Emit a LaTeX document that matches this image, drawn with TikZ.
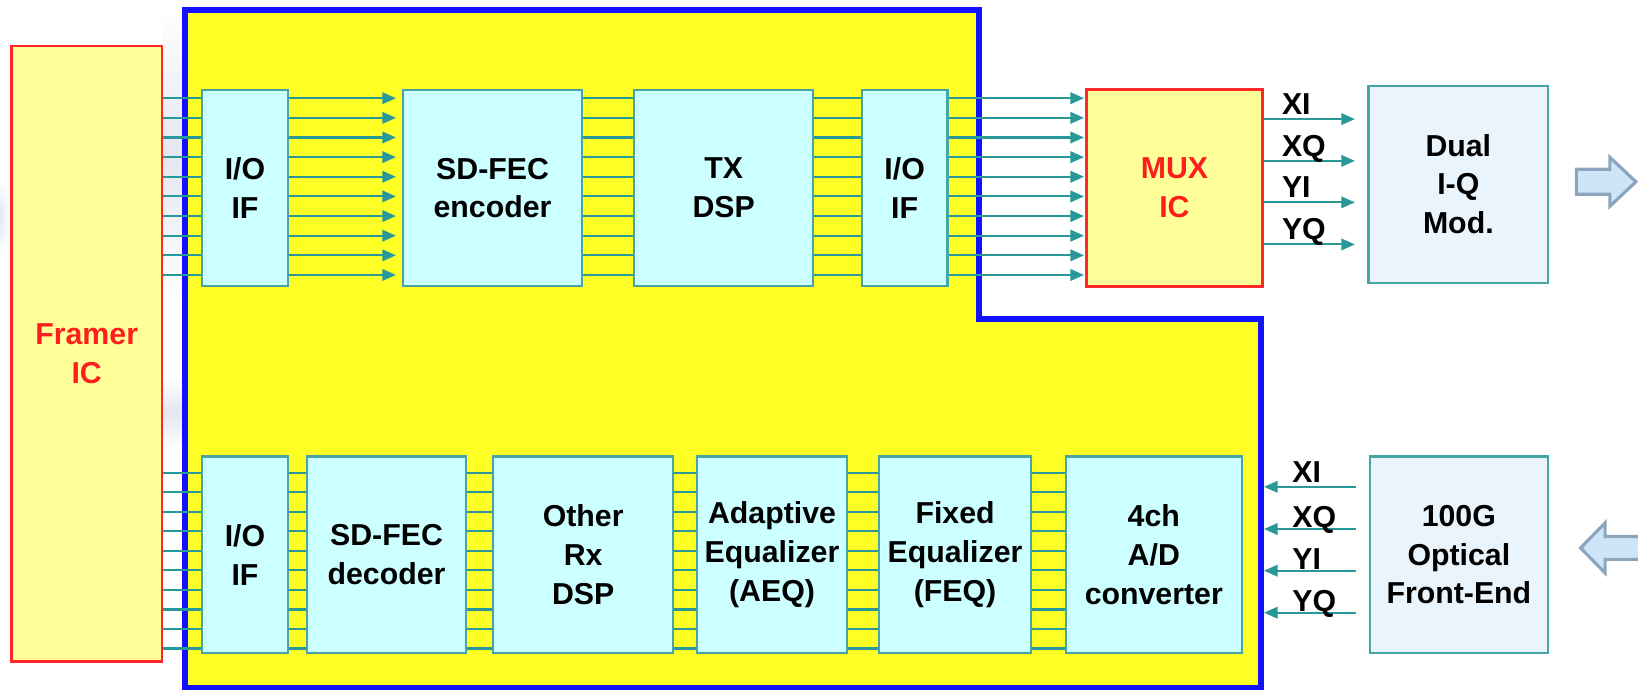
\documentclass[tikz,border=0pt]{standalone}
\usepackage{fontspec}
\setmainfont{Liberation Sans}
\usetikzlibrary{arrows.meta,calc}
\definecolor{bluebd}{RGB}{18,18,255}
\definecolor{yel}{RGB}{255,255,38}
\definecolor{lyel}{RGB}{255,255,153}
\definecolor{redbd}{RGB}{255,40,40}
\definecolor{redtx}{RGB}{255,30,30}
\definecolor{cyanf}{RGB}{204,255,255}
\definecolor{tealbd}{RGB}{70,165,165}
\definecolor{buscol}{RGB}{40,152,152}
\definecolor{lblue}{RGB}{234,244,252}
\definecolor{arrf}{RGB}{206,228,247}
\definecolor{arrbd}{RGB}{140,165,190}
\definecolor{shadowc}{RGB}{228,230,241}
\begin{document}
\begin{tikzpicture}[x=1pt,y=-1pt,
  every node/.style={font=\fontsize{29}{37}\selectfont\bfseries, align=center, inner sep=0pt},
  blk/.style={draw=tealbd, fill=cyanf, line width=2pt, minimum height=188pt},
  ic/.style={draw=redbd, fill=lyel, line width=2.6pt, text=redtx},
  ext/.style={draw=tealbd, fill=lblue, line width=2pt},
  bus/.style={draw=buscol, line width=2pt},
  busarr/.style={bus, -{Triangle[length=13pt,width=11pt]}},
  lbl/.style={anchor=base west},
  blockarrow/.style={draw=arrbd, fill=arrf, line width=3pt, line join=miter}
]
\useasboundingbox (0,0) rectangle (1568,662);

% faint background shading
\shade[top color=white, bottom color=white, middle color=shadowc] (156,8) rectangle (176,290);
\shade[top color=white, bottom color=white, middle color=shadowc] (156,360) rectangle (176,430);
\shade[inner color=shadowc, outer color=white] (-10,170) rectangle (10,245);

% yellow ASIC area with blue outline
\draw[bluebd, fill=yel, line width=5.5pt, line join=miter]
  (177,9.5) -- (937,9.5) -- (937,305.5) -- (1207,305.5) -- (1207,658) -- (177,658) -- cycle;
\coordinate (bR) at (1210,0);

% blocks
\node[ic, minimum width=144pt, minimum height=589pt] (framer) at (83,338.5) {Framer\\IC};
\node[blk, minimum width=82pt] (io1) at (234.5,180) {I/O\\IF};
\node[blk, minimum width=171pt] (enc) at (471.5,180) {SD-FEC\\encoder};
\node[blk, minimum width=171.5pt] (tx) at (692.75,180) {TX\\DSP};
\node[blk, minimum width=82pt] (io2) at (866,180) {I/O\\IF};
\node[ic, minimum width=168.5pt, minimum height=188pt] (mux) at (1124.25,180) {MUX\\IC};
\node[ext, minimum width=172pt, minimum height=188.5pt] (dual) at (1396,176.25) {Dual\\I-Q\\Mod.};

\node[blk, minimum width=82pt] (io3) at (234.5,531) {I/O\\IF};
\node[blk, minimum width=152pt] (dec) at (370,531) {SD-FEC\\decoder};
\node[blk, minimum width=172.5pt] (rx) at (558.25,531) {Other\\Rx\\DSP};
\node[blk, minimum width=144pt] (aeq) at (739,531) {Adaptive\\Equalizer\\(AEQ)};
\node[blk, minimum width=145.5pt] (feq) at (914.25,531) {Fixed\\Equalizer\\(FEQ)};
\node[blk, minimum width=169pt] (adc) at (1104.5,531) {4ch\\A/D\\converter};
\node[ext, minimum width=171pt, minimum height=188pt] (ofe) at (1396.5,531) {100G\\Optical\\Front-End};

% transmit buses
\foreach \i in {0,...,9}{
  \pgfmathsetmacro\yy{94+18.8*\i}
  \draw[bus] (framer.east |- 0,\yy) -- (io1.west |- 0,\yy);
  \draw[busarr, shorten >=6pt] (io1.east |- 0,\yy) -- (enc.west |- 0,\yy);
  \draw[bus] (enc.east |- 0,\yy) -- (tx.west |- 0,\yy);
  \draw[bus] (tx.east |- 0,\yy) -- (io2.west |- 0,\yy);
  \draw[busarr, shorten >=1pt] (io2.east |- 0,\yy) -- (mux.west |- 0,\yy);
}
% receive buses
\foreach \i in {0,...,9}{
  \pgfmathsetmacro\yy{452.5+18.7*\i}
  \draw[bus] (framer.east |- 0,\yy) -- (io3.west |- 0,\yy);
  \draw[bus] (io3.east |- 0,\yy) -- (dec.west |- 0,\yy);
  \draw[bus] (dec.east |- 0,\yy) -- (rx.west |- 0,\yy);
  \draw[bus] (rx.east |- 0,\yy) -- (aeq.west |- 0,\yy);
  \draw[bus] (aeq.east |- 0,\yy) -- (feq.west |- 0,\yy);
  \draw[bus] (feq.east |- 0,\yy) -- (adc.west |- 0,\yy);
}

% modulator drive signals
\foreach \yy/\t/\b in {114/XI/109.5, 154/XQ/149.5, 193.7/YI/189.2, 234/YQ/229.5}{
  \draw[busarr, shorten >=12pt] (mux.east |- 0,\yy) -- (dual.west |- 0,\yy);
  \node[lbl] at (1227,\b) {\t};
}
% front-end outputs
\foreach \yy/\t/\b in {466/XI/462, 506.4/XQ/505, 546.3/YI/545, 586.5/YQ/585}{
  \draw[busarr, shorten <=12pt] (ofe.west |- 0,\yy) -- (bR |- 0,\yy);
  \node[lbl] at (1237,\b) {\t};
}

% optical in/out block arrows
\draw[blockarrow] (1509,162) -- (1541,162) -- (1541,150.5) -- (1566,174) -- (1541,197.5) -- (1541,186) -- (1509,186) -- cycle;
\draw[blockarrow] (1575,513.5) -- (1536.5,513.5) -- (1536.5,500.5) -- (1513,524.5) -- (1536.5,548.5) -- (1536.5,535.5) -- (1575,535.5) -- cycle;
\end{tikzpicture}
\end{document}
